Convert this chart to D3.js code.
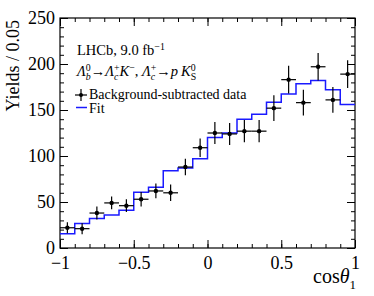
<!DOCTYPE html>
<html>
<head>
<meta charset="utf-8">
<script src="https://cdn.jsdelivr.net/npm/d3@7"></script>
<style>
  body { margin: 0; background: #fff; }
  svg { display: block; font-family: "Liberation Serif", "Times New Roman", serif; }
</style>
</head>
<body>
<svg id="chart"></svg>
<script>
// bin centres of cos(theta_1), width 0.1
let binCentres = [-0.95, -0.85, -0.75, -0.65, -0.55, -0.45, -0.35, -0.25, -0.15, -0.05,
                  0.05, 0.15, 0.25, 0.35, 0.45, 0.55, 0.65, 0.75, 0.85, 0.95]
let dataYields = [22, 21, 38, 49, 46, 53, 62, 60, 88, 109,
                  125, 124, 127, 127, 152, 183, 158, 197, 161, 189]
let dataErrors = [6, 6, 7, 7, 7, 8, 8, 9, 9, 10,
                  12, 12, 12, 12, 14, 15, 14, 15, 14, 15]
let fitYields = [15.5, 26.5, 32, 36, 41, 60.5, 66, 84, 87, 97,
                 120, 125, 140, 145.5, 158.5, 167.5, 178.5, 182, 172, 156]
let binWidth = 0.1

let xMajorTicks = [-1, -0.5, 0, 0.5, 1]
let yMajorTicks = [0, 50, 100, 150, 200, 250]

let width = 374
let height = 296
let padL = 60, padR = 355, padT = 18, padB = 248
let serif = '"Liberation Serif", "Times New Roman", serif'

let svg = d3.select('#chart').attr('width', width).attr('height', height)

let x = d3.scaleLinear().domain([-1, 1]).range([padL, padR])
let y = d3.scaleLinear().domain([0, 250]).range([padB, padT])

let fmt = d => d < 0 ? '\u2212' + Math.abs(d) : String(d)

// minor ticks, all four sides
let minorX = d3.range(-10, 11).map(i => i / 10)
let minorY = d3.range(0, 26).map(i => i * 10)

let styleAxis = g => {
    g.select('.domain').remove()
    g.attr('font-family', serif)
    g.selectAll('line').attr('stroke', '#000').attr('stroke-width', 1)
}

svg.append('g').attr('transform', `translate(0,${padB})`)
   .call(d3.axisBottom(x).tickValues(minorX).tickSize(-4).tickFormat(''))
   .call(styleAxis)
svg.append('g').attr('transform', `translate(0,${padT})`)
   .call(d3.axisTop(x).tickValues(minorX).tickSize(-4).tickFormat(''))
   .call(styleAxis)
svg.append('g').attr('transform', `translate(${padL},0)`)
   .call(d3.axisLeft(y).tickValues(minorY).tickSize(-4).tickFormat(''))
   .call(styleAxis)
svg.append('g').attr('transform', `translate(${padR},0)`)
   .call(d3.axisRight(y).tickValues(minorY).tickSize(-4).tickFormat(''))
   .call(styleAxis)

// major ticks
let xAxis = svg.append('g').attr('transform', `translate(0,${padB})`)
   .call(d3.axisBottom(x).tickValues(xMajorTicks).tickSize(-8).tickPadding(8).tickFormat(fmt))
   .call(styleAxis)
svg.append('g').attr('transform', `translate(0,${padT})`)
   .call(d3.axisTop(x).tickValues(xMajorTicks).tickSize(-8).tickFormat(''))
   .call(styleAxis)
let yAxis = svg.append('g').attr('transform', `translate(${padL},0)`)
   .call(d3.axisLeft(y).tickValues(yMajorTicks).tickSize(-8).tickPadding(5).tickFormat(fmt))
   .call(styleAxis)
svg.append('g').attr('transform', `translate(${padR},0)`)
   .call(d3.axisRight(y).tickValues(yMajorTicks).tickSize(-8).tickFormat(''))
   .call(styleAxis)

xAxis.selectAll('text').attr('font-size', 18).attr('fill', '#000')
yAxis.selectAll('text').attr('font-size', 18).attr('fill', '#000')

// frame
svg.append('rect')
   .attr('x', padL).attr('y', padT)
   .attr('width', padR - padL).attr('height', padB - padT)
   .attr('fill', 'none').attr('stroke', '#000').attr('stroke-width', 1.2)

// fit step line
let steps = []
binCentres.forEach((c, i) => {
    steps.push([c - binWidth / 2, fitYields[i]])
    steps.push([c + binWidth / 2, fitYields[i]])
})
svg.append('path')
   .attr('d', d3.line().x(d => x(d[0])).y(d => y(d[1]))(steps))
   .attr('fill', 'none').attr('stroke', '#1a1aff').attr('stroke-width', 1.5)

// data points with error bars
let pts = svg.append('g')
binCentres.forEach((c, i) => {
    pts.append('line')
       .attr('x1', x(c - binWidth / 2)).attr('x2', x(c + binWidth / 2))
       .attr('y1', y(dataYields[i])).attr('y2', y(dataYields[i]))
       .attr('stroke', '#000').attr('stroke-width', 1.2)
    pts.append('line')
       .attr('x1', x(c)).attr('x2', x(c))
       .attr('y1', y(dataYields[i] - dataErrors[i])).attr('y2', y(dataYields[i] + dataErrors[i]))
       .attr('stroke', '#000').attr('stroke-width', 1.2)
    pts.append('circle')
       .attr('cx', x(c)).attr('cy', y(dataYields[i])).attr('r', 2.2).attr('fill', '#000')
})

// axis titles
svg.append('text')
   .attr('transform', 'translate(19,20) rotate(-90)')
   .attr('text-anchor', 'end').attr('font-size', 18)
   .text('Yields / 0.05')

let xt = svg.append('text').attr('x', 356).attr('y', 283)
   .attr('text-anchor', 'end').attr('font-size', 20)
xt.append('tspan').text('cos')
xt.append('tspan').attr('font-style', 'italic').text('\u03b8')
xt.append('tspan').attr('font-size', 13).attr('dy', 6).text('1')

// one text element per line; sub and sup stacked with a negative dx
let measure = (txt, fs, italic) => {
    let t = svg.append('text').attr('font-size', fs)
               .attr('font-style', italic ? 'italic' : null).text(txt)
    let w = t.node().getComputedTextLength()
    t.remove()
    return w
}
let rich = (x0, y0, size, pieces) => {
    let t = svg.append('text').attr('x', x0).attr('y', y0).attr('font-size', size)
    let small = size * 0.68
    let off = 0, carry = 0
    pieces.forEach(p => {
        t.append('tspan').attr('dy', -off).attr('dx', carry)
         .attr('font-style', p.i ? 'italic' : null).text(p.t)
        off = 0; carry = p.gap || 0
        let subW = 0
        if (p.sub !== undefined) {
            subW = measure(p.sub, small, p.si)
            t.append('tspan').attr('dy', 3.5).attr('font-size', small)
             .attr('font-style', p.si ? 'italic' : null).text(p.sub)
            off = 3.5
        }
        if (p.sup !== undefined) {
            let supW = measure(p.sup, small, false)
            t.append('tspan').attr('dy', -5.5 - off).attr('dx', -subW).attr('font-size', small).text(p.sup)
            off = -5.5
            carry += Math.max(0, subW - supW)
        }
    })
}

rich(77, 55, 14.5, [
    {t: 'LHCb, 9.0\u00a0fb', sup: '\u22121'}
])
rich(77, 76, 14.5, [
    {t: '\u039b', i: true, sub: 'b', si: true, sup: '0'},
    {t: '\u2192'},
    {t: '\u039b', i: true, sub: 'c', si: true, sup: '+'},
    {t: 'K', i: true, sup: '\u2212'},
    {t: ',\u00a0'},
    {t: '\u039b', i: true, sub: 'c', si: true, sup: '+'},
    {t: '\u2192'},
    {t: 'p', i: true, gap: 3},
    {t: 'K', i: true, sub: 'S', sup: '0'}
])

// legend
let lg = svg.append('g')
lg.append('line').attr('x1', 75).attr('x2', 87).attr('y1', 95).attr('y2', 95)
  .attr('stroke', '#000').attr('stroke-width', 1.2)
lg.append('line').attr('x1', 81).attr('x2', 81).attr('y1', 89).attr('y2', 101)
  .attr('stroke', '#000').attr('stroke-width', 1.2)
lg.append('circle').attr('cx', 81).attr('cy', 95).attr('r', 2).attr('fill', '#000')
lg.append('text').attr('x', 89).attr('y', 99).attr('font-size', 14).text('Background-subtracted data')
lg.append('line').attr('x1', 76).attr('x2', 87).attr('y1', 107.5).attr('y2', 107.5)
  .attr('stroke', '#1a1aff').attr('stroke-width', 1.5)
lg.append('text').attr('x', 89).attr('y', 112.5).attr('font-size', 14).text('Fit')
</script>
</body>
</html>
